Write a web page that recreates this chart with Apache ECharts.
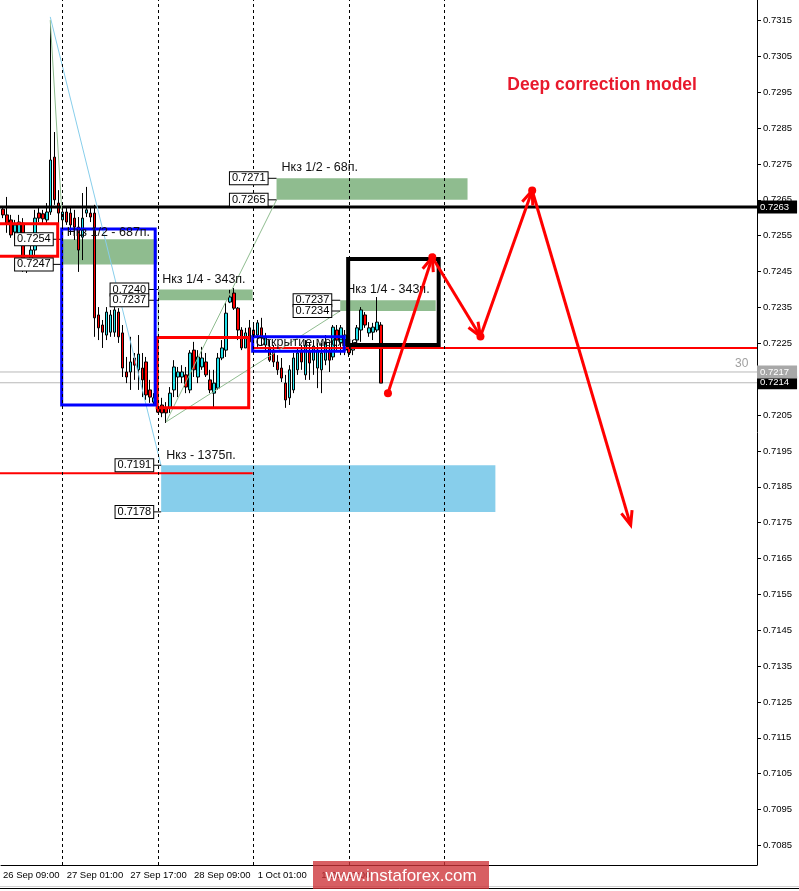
<!DOCTYPE html>
<html><head><meta charset="utf-8">
<script src="https://cdn.jsdelivr.net/npm/echarts@6/dist/echarts.min.js"></script>
<style>html,body{margin:0;padding:0;background:#fff;overflow:hidden}#c{width:799px;height:891px}</style>
</head><body><div id="c"></div>
<script>
// ---------------- DATA ----------------
// H1 candles from 26 Sep 09:00, [open, close, low, high]
const candles = [
[0.72624,0.72608,0.72599,0.72630],[0.72608,0.72585,0.72558,0.72658],[0.72594,0.72552,0.72544,0.72608],[0.72560,0.72580,0.72538,0.72594],
[0.72538,0.72588,0.72524,0.72608],[0.72585,0.72460,0.72449,0.72599],[0.72460,0.72468,0.72446,0.72477],[0.72474,0.72510,0.72460,0.72524],
[0.72510,0.72599,0.72496,0.72622],[0.72613,0.72599,0.72588,0.72630],[0.72611,0.72597,0.72580,0.72622],[0.72594,0.72616,0.72580,0.72641],
[0.72616,0.72761,0.72608,0.73137],[0.72769,0.72650,0.72636,0.72839],[0.72641,0.72613,0.72574,0.72677],[0.72594,0.72616,0.72566,0.72622],
[0.72616,0.72588,0.72580,0.72630],[0.72613,0.72580,0.72552,0.72630],[0.72599,0.72574,0.72538,0.72622],[0.72574,0.72510,0.72449,0.72602],
[0.72546,0.72599,0.72482,0.72669],[0.72613,0.72622,0.72602,0.72686],[0.72613,0.72602,0.72588,0.72630],[0.72613,0.72321,0.72268,0.72636],
[0.72329,0.72293,0.72259,0.72351],[0.72301,0.72281,0.72237,0.72315],[0.72273,0.72337,0.72259,0.72351],[0.72281,0.72329,0.72268,0.72343],
[0.72281,0.72343,0.72268,0.72351],[0.72337,0.72268,0.72251,0.72348],[0.72279,0.72181,0.72156,0.72301],[0.72170,0.72156,0.72139,0.72212],
[0.72170,0.72198,0.72120,0.72268],[0.72209,0.72189,0.72148,0.72223],[0.72176,0.72220,0.72120,0.72273],[0.72181,0.72148,0.72100,0.72223],
[0.72198,0.72106,0.72092,0.72212],[0.72120,0.72100,0.72084,0.72148],[0.72086,0.72098,0.72078,0.72111],[0.72072,0.72058,0.72056,0.72086],
[0.72078,0.72056,0.72044,0.72098],[0.72070,0.72056,0.72028,0.72086],[0.72070,0.72111,0.72056,0.72128],[0.72120,0.72184,0.72100,0.72203],
[0.72156,0.72170,0.72100,0.72184],[0.72156,0.72170,0.72139,0.72189],[0.72162,0.72128,0.72111,0.72184],[0.72120,0.72223,0.72111,0.72231],
[0.72231,0.72176,0.72156,0.72254],[0.72156,0.72212,0.72139,0.72231],[0.72184,0.72209,0.72176,0.72240],[0.72198,0.72162,0.72156,0.72223],
[0.72148,0.72120,0.72111,0.72176],[0.72111,0.72139,0.72072,0.72176],[0.72125,0.72209,0.72120,0.72223],[0.72209,0.72237,0.72203,0.72259],
[0.72231,0.72334,0.72212,0.72365],[0.72365,0.72379,0.72362,0.72399],[0.72390,0.72348,0.72343,0.72404],[0.72348,0.72287,0.72259,0.72351],
[0.72287,0.72237,0.72231,0.72295],[0.72237,0.72279,0.72237,0.72293],[0.72293,0.72254,0.72240,0.72315],[0.72287,0.72268,0.72251,0.72301],
[0.72273,0.72307,0.72240,0.72315],[0.72293,0.72265,0.72245,0.72321],[0.72245,0.72265,0.72231,0.72279],[0.72240,0.72203,0.72198,0.72259],
[0.72231,0.72198,0.72184,0.72245],[0.72198,0.72176,0.72162,0.72217],[0.72181,0.72153,0.72142,0.72209],[0.72139,0.72092,0.72070,0.72162],
[0.72098,0.72176,0.72078,0.72189],[0.72120,0.72209,0.72111,0.72223],[0.72176,0.72223,0.72162,0.72237],[0.72231,0.72198,0.72176,0.72245],
[0.72162,0.72245,0.72148,0.72259],[0.72226,0.72195,0.72148,0.72251],[0.72203,0.72242,0.72162,0.72259],[0.72181,0.72231,0.72125,0.72251],
[0.72176,0.72223,0.72111,0.72251],[0.72203,0.72254,0.72189,0.72273],[0.72231,0.72203,0.72170,0.72251],[0.72212,0.72295,0.72203,0.72301],
[0.72287,0.72259,0.72231,0.72301],[0.72251,0.72293,0.72217,0.72301],[0.72231,0.72273,0.72217,0.72287],[0.72245,0.72223,0.72212,0.72259],
[0.72231,0.72245,0.72217,0.72259],[0.72259,0.72293,0.72245,0.72301],[0.72287,0.72343,0.72254,0.72351],[0.72329,0.72301,0.72293,0.72337],
[0.72279,0.72293,0.72268,0.72309],[0.72281,0.72295,0.72259,0.72307],[0.72287,0.72309,0.72281,0.72379],[0.72301,0.72139,0.72139,0.72309]
];
const slotCount = 190;                      // bar slots incl. future shift
const tickLabels = {0:'26 Sep 09:00',16:'27 Sep 01:00',32:'27 Sep 17:00',48:'28 Sep 09:00',64:'1 Oct 01:00',80:'1 Oct 17:00'};
const yTicks = [0.7085,0.7095,0.7105,0.7115,0.7125,0.7135,0.7145,0.7155,0.7165,0.7175,0.7185,0.7195,
                0.7205,0.7215,0.7225,0.7235,0.7245,0.7255,0.7265,0.7275,0.7285,0.7295,0.7305,0.7315];
const yRange = [0.707955, 0.732071];
const daySeparators = [15,39,63,87,111];
const keyLevel = 0.7263, askPrice = 0.7217, lastPrice = 0.7214;
// zones [xFrom, xTo, priceLow, priceHigh] in bar units
const greenZones = [[14.75,38.75,0.7247,0.7254],[39,62.75,0.7237,0.7240],[68.75,116.75,0.7265,0.7271],[84.75,108.75,0.7234,0.7237]];
const blueZones = [[39.75,123.75,0.7178,0.7191]];
const redBoxes = [[-3,13.75,0.72493,0.72583],[38.75,61.75,0.72070,0.72266]];
const blueBoxes = [[14.75,38.25,0.72078,0.72569],[62.75,85.75,0.72228,0.72268]];
const blackBoxes = [[86.75,109.5,0.72245,0.72485]];
const redLevels = [[62.75,0.72237,189.5,0.72237],[-3,0.71888,62.75,0.71888]];
const skyLines = [[11.875,0.73160,39.75,0.71908]];
const greenLines = [[11.875,0.73151,14.75,0.72622],[41,0.72031,68.75,0.7265],[41,0.72031,84.75,0.7234],[39,0.7237,39,0.7207]];
const priceBoxes = [[12.5,0.7254],[12.5,0.7247],[36.5,0.7240],[36.5,0.7237],[66.5,0.7271],[66.5,0.7265],[82.5,0.7237],[82.5,0.7234],[37.75,0.7191],[37.75,0.7178]];
const zoneCaptions = [[16,0.72558,'Нкз 1/2 - 687п.'],[40,0.72427,'Нкз 1/4 - 343п.'],[70,0.72739,'Нкз 1/2 - 68п.'],[86.25,0.72399,'Нкз 1/4 - 343п.'],[41,0.71936,'Нкз - 1375п.'],[63.5,0.72251,'Открытие месяца']];
const forecastPath = [[96.75,0.72111],[107.9,0.72490],[120,0.72269],[133,0.72676],[157.75,0.71743]];
const titleText = [[126.75,0.72970,'Deep correction model']];
const periodNote = [[184,0.72192,'30']];

// ---------------- RENDER ----------------
const FONT = '"Liberation Sans", Arial, sans-serif';
const X_END = slotCount - 0.5;
const slots = Array.from({length: slotCount}, (_, i) => String(i));
const connectors = priceBoxes.map(b => {
  const zoneStart = b[0] < 20 ? 14.75 : (b[0] < 37 ? 39 : (b[0] < 40 ? 39.75 : (b[0] < 70 ? 68.75 : 84.75)));
  return [b[0], b[1], zoneStart, b[1]];
});

function rectRender(fill, stroke, lw) {
  return function (params, api) {
    const p1 = api.coord([api.value(0), api.value(2)]);
    const p2 = api.coord([api.value(1), api.value(3)]);
    return {type: 'rect', shape: {x: Math.min(p1[0], p2[0]), y: Math.min(p1[1], p2[1]),
      width: Math.abs(p2[0] - p1[0]), height: Math.abs(p2[1] - p1[1])},
      style: {fill: fill || 'rgba(0,0,0,0)', stroke: stroke || null, lineWidth: lw || 0}};
  };
}
function segRender(stroke, lw) {
  return function (params, api) {
    const a = api.coord([api.value(0), api.value(1)]);
    const b = api.coord([api.value(2), api.value(3)]);
    return {type: 'line', shape: {x1: a[0], y1: a[1], x2: b[0], y2: b[1]}, style: {stroke: stroke, lineWidth: lw}};
  };
}
function custom(data, renderItem, z) {
  return {type: 'custom', coordinateSystem: 'cartesian2d', xAxisIndex: 1, yAxisIndex: 0,
    silent: true, clip: false, z: z, data: data, renderItem: renderItem};
}
function textSeries(items, style, z, textFn) {
  return custom(items.map(t => [t[0], t[1]]), function (params, api) {
    const t = items[params.dataIndex];
    const p = api.coord([t[0], t[1]]);
    return {type: 'text', x: p[0], y: p[1], style: Object.assign({text: textFn ? textFn(t) : t[2]}, style)};
  }, z);
}
const tagStyle = (bg) => ({fill: '#fff', font: '9.5px ' + FONT, align: 'left', verticalAlign: 'middle',
  backgroundColor: bg, padding: [2, 8, 1, 3]});

const chart = echarts.init(document.getElementById('c'), null, {renderer: 'canvas'});

chart.setOption({
  animation: false,
  grid: {left: -1, right: 42, top: 0, bottom: 26, containLabel: false},
  xAxis: [{
    type: 'category', data: slots, boundaryGap: true,
    axisLine: {lineStyle: {color: '#000', width: 1}},
    axisTick: {alignWithLabel: true, interval: (i) => tickLabels[i] !== undefined, length: 4, lineStyle: {color: '#000'}},
    axisLabel: {interval: (i) => tickLabels[i] !== undefined, formatter: (v, i) => tickLabels[i] || '',
      align: 'left', color: '#000', fontSize: 9.5, fontFamily: FONT, margin: 5},
    splitLine: {show: false}
  }, {type: 'value', min: -0.5, max: X_END, show: false}],
  yAxis: {
    type: 'value', position: 'right', min: yRange[0], max: yRange[1], scale: true,
    axisLine: {show: true, onZero: false, lineStyle: {color: '#000', width: 1}},
    axisTick: {show: true, customValues: yTicks, length: 4, lineStyle: {color: '#000'}},
    axisLabel: {customValues: yTicks, formatter: (v) => v.toFixed(4), color: '#000', fontSize: 9.5, fontFamily: FONT, margin: 6},
    splitLine: {show: false}
  },
  series: [
    custom(greenZones, rectRender('#8fbc8f'), 1),
    custom(blueZones, rectRender('#87ceeb'), 1),
    custom([[-3, askPrice, X_END, askPrice], [-3, lastPrice, X_END, lastPrice]], segRender('#b8b8b8', 1), 1),
    {
      type: 'candlestick', xAxisIndex: 0, yAxisIndex: 0, data: candles, barWidth: 3, z: 3, silent: true,
      itemStyle: {color: '#22e0ea', color0: '#ff0000', borderColor: '#000', borderColor0: '#000', borderWidth: 1}
    },
    custom([[-3, keyLevel, X_END, keyLevel]], segRender('#000', 3), 4),
    custom(redLevels, segRender('#ff0000', 2), 4),
    custom(skyLines, segRender('#87ceeb', 1), 4),
    custom(greenLines, segRender('#8fbc8f', 1), 4),
    custom(connectors, segRender('#000', 1), 4),
    custom(redBoxes, rectRender(null, '#ff0000', 3), 4),
    custom(blueBoxes, rectRender(null, '#0000ff', 3), 4),
    textSeries(zoneCaptions, {fill: '#111', font: '12.5px ' + FONT, align: 'left', verticalAlign: 'middle'}, 5),
    custom(blackBoxes, rectRender(null, '#000', 4), 6),
    textSeries(priceBoxes, {fill: '#000', font: '11px ' + FONT, align: 'right', verticalAlign: 'middle',
      backgroundColor: '#fff', borderColor: '#000', borderWidth: 1, padding: [1, 2, 0, 2]}, 6, (t) => t[1].toFixed(4)),
    textSeries(titleText, {fill: '#e8192c', font: 'bold 17.5px ' + FONT, align: 'left', verticalAlign: 'middle'}, 6),
    textSeries(periodNote, {fill: '#a0a0a0', font: '12px ' + FONT, align: 'left', verticalAlign: 'middle'}, 6),
    custom(forecastPath.slice(0, -1), function (params, api) {
      const i = params.dataIndex;
      const a = api.coord(forecastPath[i]), b = api.coord(forecastPath[i + 1]);
      const dx = b[0] - a[0], dy = b[1] - a[1], L = Math.hypot(dx, dy), ux = dx / L, uy = dy / L;
      const ang = 0.38, hl = 15;
      const rot = (x, y, t) => [x * Math.cos(t) - y * Math.sin(t), x * Math.sin(t) + y * Math.cos(t)];
      const r1 = rot(-ux, -uy, ang), r2 = rot(-ux, -uy, -ang);
      return {type: 'group', children: [
        {type: 'line', shape: {x1: a[0], y1: a[1], x2: b[0], y2: b[1]}, style: {stroke: '#ff0000', lineWidth: 3}},
        {type: 'polyline', shape: {points: [[b[0] + r1[0] * hl, b[1] + r1[1] * hl], [b[0], b[1]], [b[0] + r2[0] * hl, b[1] + r2[1] * hl]]},
          style: {stroke: '#ff0000', lineWidth: 3, fill: 'none'}},
        {type: 'circle', shape: {cx: a[0], cy: a[1], r: 4}, style: {fill: '#ff0000'}}
      ]};
    }, 7),
    {
      type: 'line', xAxisIndex: 1, yAxisIndex: 0, data: [], z: 8, silent: true,
      markLine: {silent: true, symbol: ['none', 'none'], animation: false, label: {show: false},
        lineStyle: {color: '#000', width: 1, type: [3, 3]},
        data: daySeparators.map(v => ({xAxis: v}))}
    },
    textSeries([[X_END, keyLevel], [X_END, lastPrice]], tagStyle('#000'), 20, (t) => t[1].toFixed(4)),
    textSeries([[X_END, askPrice]], tagStyle('#a8a8a8'), 20, (t) => t[1].toFixed(4))
  ],
  graphic: [
    {type: 'line', shape: {x1: 0, y1: 886.5, x2: 799, y2: 886.5}, style: {stroke: '#d0d0d0', lineWidth: 1}, z: 50},
    {type: 'line', shape: {x1: 0, y1: 888.5, x2: 799, y2: 888.5}, style: {stroke: '#000', lineWidth: 1}, z: 50},
    {type: 'rect', shape: {x: 313, y: 861, width: 176, height: 28}, style: {fill: 'rgba(205,50,55,0.78)'}, z: 100},
    {type: 'text', x: 401, y: 876, style: {text: 'www.instaforex.com', fill: '#fff', font: '17px ' + FONT, align: 'center', verticalAlign: 'middle'}, z: 101}
  ]
});
</script>
</body></html>
